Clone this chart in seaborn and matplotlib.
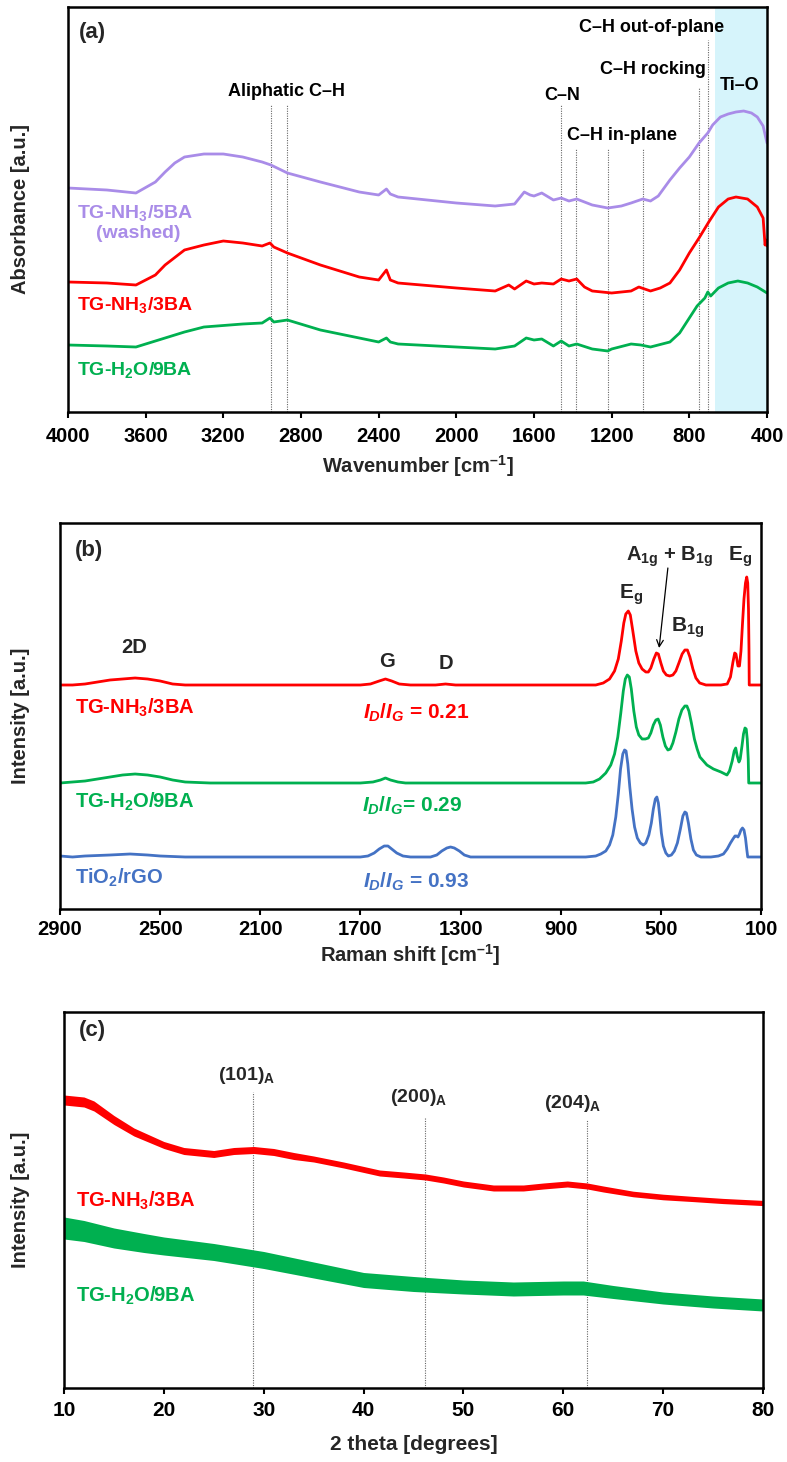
import matplotlib
matplotlib.use("Agg")
import numpy as np
import matplotlib.pyplot as plt
import seaborn as sns
from matplotlib import font_manager

sns.set_theme(style="white")
plt.rcParams.update({
    "font.family": ["Liberation Sans", "DejaVu Sans"],
    "font.weight": "bold",
    "mathtext.fontset": "custom",
    "mathtext.rm": "Liberation Sans:bold",
    "mathtext.it": "Liberation Sans:italic:bold",
    "mathtext.bf": "Liberation Sans:bold",
    "mathtext.sf": "Liberation Sans:bold",
    "axes.linewidth": 1.8,
    "axes.edgecolor": "black",
})
installed = {f.name for f in font_manager.fontManager.ttflist}
NARROW = "Liberation Sans Narrow" if "Liberation Sans Narrow" in installed else "Liberation Sans"

PURPLE = "#a98ce8"
RED = "#ff0000"
GREEN = "#00b050"
BLUE = "#4472c4"
SHADE = "#d6f4fb"

# ---------------- (a) FTIR absorbance ----------------
ftir_5ba_wn = [4000, 3800, 3650, 3550, 3500, 3450, 3400, 3300, 3200, 3100, 3000, 2955, 2870, 2700,
               2500, 2400, 2360, 2340, 2300, 2100, 2000, 1800, 1700, 1650, 1620, 1600, 1560, 1500,
               1460, 1420, 1380, 1300, 1220, 1150, 1100, 1040, 1000, 960, 900, 850, 800, 750, 705,
               680, 640, 600, 560, 520, 480, 450, 420, 400]
ftir_5ba_abs = [224, 222, 219, 230, 240, 249, 255, 258, 258, 255, 250, 247, 239, 230,
                220, 217, 223, 218, 215, 211, 209, 206, 208, 220, 217, 216, 219, 212,
                214, 211, 213, 207, 204, 206, 209, 213, 211, 216, 232, 244, 255, 269, 279,
                287, 295, 298, 300, 301, 299, 295, 286, 269]

ftir_3ba_wn = [4000, 3800, 3650, 3550, 3500, 3400, 3300, 3200, 3100, 3000, 2960, 2940, 2870, 2700,
               2500, 2400, 2360, 2340, 2300, 2000, 1800, 1730, 1700, 1640, 1600, 1560, 1500, 1460,
               1420, 1380, 1340, 1300, 1200, 1100, 1060, 1000, 950, 900, 850, 800, 750, 700, 650,
               600, 560, 500, 450, 420, 410, 405, 400]
ftir_3ba_abs = [130, 129, 127, 137, 147, 162, 167, 171, 169, 166, 169, 165, 159, 147,
                135, 132, 142, 132, 129, 124, 121, 127, 123, 131, 128, 129, 128, 133,
                131, 133, 125, 121, 119, 121, 125, 121, 124, 129, 142, 159, 174, 190, 205,
                213, 215, 213, 205, 194, 167, 172, 166]

ftir_9ba_wn = [4000, 3800, 3650, 3500, 3400, 3300, 3100, 3000, 2960, 2940, 2870, 2700, 2500, 2400,
               2360, 2340, 2300, 2000, 1800, 1700, 1640, 1600, 1560, 1500, 1460, 1420, 1380, 1300,
               1220, 1200, 1100, 1050, 1000, 900, 850, 800, 760, 720, 705, 690, 650, 600, 550,
               500, 450, 400]
ftir_9ba_abs = [67, 66, 65, 74, 80, 85, 88, 89, 94, 90, 92, 82, 74, 70,
                74, 70, 68, 65, 63, 66, 74, 72, 73, 66, 71, 66, 68, 63,
                61, 63, 68, 67, 65, 70, 79, 94, 106, 114, 120, 116, 124, 129, 131,
                129, 125, 119]

ftir_ticks = [4000, 3600, 3200, 2800, 2400, 2000, 1600, 1200, 800, 400]
tio_band = (668, 400)
# (wavenumber, top of marker line in axis units)
ftir_markers = [(2956, 307), (2870, 307), (1461, 307), (1384, 264), (1219, 264), (1039, 264),
                (750, 325), (704, 372)]
ftir_labels = [("Aliphatic C–H", 2877, 320), ("C–N", 1456, 317), ("C–H in-plane", 1147, 277),
               ("C–H rocking", 987, 342), ("C–H out-of-plane", 992, 385), ("Ti–O", 539, 327)]

# ---------------- (b) Raman ----------------
raman_3ba_shift = [2900, 2850, 2800, 2750, 2700, 2650, 2600, 2550, 2500, 2450, 2400, 2300, 2100, 1900,
                   1700, 1660, 1625, 1600, 1575, 1545, 1500, 1400, 1360, 1320, 1100, 900, 760, 730,
                   705, 685, 670, 658, 648, 640, 630, 622, 612, 600, 588, 575, 560, 550, 540, 528,
                   518, 510, 500, 490, 478, 465, 452, 440, 428, 415, 404, 394, 384, 372, 360, 345,
                   320, 260, 235, 222, 212, 205, 200, 192, 186, 180, 174, 168, 162, 157, 153, 150,
                   148, 147, 130, 100]
raman_3ba_int = [224, 224, 225, 227, 229, 230, 231, 230, 228, 225, 224, 224, 224, 224,
                 224, 225, 228, 230, 228, 225, 224, 224, 225, 224, 224, 224, 224, 226,
                 230, 238, 250, 268, 286, 295, 298, 294, 278, 258, 246, 240, 237, 237, 241, 250,
                 256, 255, 246, 238, 234, 233, 234, 238, 246, 255, 259, 259, 252, 240, 231, 226,
                 224, 224, 225, 232, 247, 256, 255, 243, 243, 258, 285, 310, 326, 332, 326, 300,
                 260, 224, 224, 224]

raman_9ba_shift = [2900, 2850, 2800, 2750, 2700, 2650, 2600, 2550, 2500, 2450, 2400, 2300, 2000, 1700,
                   1650, 1620, 1600, 1580, 1550, 1520, 1300, 1000, 800, 770, 745, 720, 700, 685,
                   672, 660, 650, 642, 634, 626, 618, 608, 598, 588, 575, 562, 550, 540, 530, 520,
                   511, 502, 492, 482, 472, 462, 452, 440, 428, 416, 404, 396, 388, 378, 366, 355,
                   344, 330, 316, 290, 260, 236, 226, 215, 207, 201, 195, 188, 183, 176, 170, 164,
                   159, 155, 151, 149, 130, 100]
raman_9ba_int = [126, 127, 128, 130, 132, 134, 135, 134, 132, 129, 127, 126, 126, 126,
                 127, 129, 131, 129, 127, 126, 126, 126, 126, 127, 130, 136, 144, 155,
                 172, 196, 218, 230, 234, 232, 220, 198, 182, 174, 170, 170, 171, 176, 184, 189,
                 190, 184, 172, 163, 159, 160, 166, 177, 190, 199, 203, 203, 198, 186, 170, 160,
                 152, 148, 144, 140, 137, 134, 138, 148, 158, 161, 153, 147, 150, 163, 175, 181,
                 180, 170, 150, 126, 126, 126]

raman_rgo_shift = [2900, 2850, 2800, 2700, 2620, 2550, 2500, 2400, 2200, 1900, 1700, 1670, 1645, 1625,
                   1605, 1590, 1575, 1555, 1530, 1500, 1420, 1395, 1375, 1355, 1340, 1325, 1305, 1285,
                   1260, 1000, 800, 760, 740, 720, 705, 692, 680, 670, 661, 652, 645, 639, 632, 624,
                   615, 605, 594, 582, 570, 560, 548, 538, 530, 522, 516, 510, 504, 498, 490, 480,
                   470, 458, 446, 434, 422, 412, 404, 398, 390, 380, 370, 358, 340, 300, 270, 250,
                   235, 222, 212, 204, 198, 192, 186, 180, 174, 168, 162, 157, 153, 130, 100]
raman_rgo_int = [53, 52, 53, 54, 55, 54, 53, 52, 52, 52, 52, 53, 56, 60,
                 63, 63, 60, 56, 53, 52, 52, 54, 58, 61, 62, 61, 58, 54,
                 52, 52, 52, 53, 55, 58, 64, 74, 92, 115, 140, 155, 159, 158, 145, 122,
                 100, 82, 71, 66, 64, 66, 74, 86, 100, 110, 112, 106, 92, 76, 63, 56,
                 53, 54, 58, 66, 80, 93, 97, 96, 86, 70, 59, 54, 52, 52, 53, 55,
                 60, 66, 70, 73, 73, 72, 75, 79, 81, 79, 71, 60, 52, 52, 52]

raman_ticks = [2900, 2500, 2100, 1700, 1300, 900, 500, 100]

# ---------------- (c) XRD ----------------
xrd_3ba_2theta = [10, 12, 13, 15, 17, 20, 22, 25, 27, 29, 31, 33, 35, 38, 41.6, 44, 46.2, 48, 50,
                  53, 56, 58, 60.4, 62.4, 64, 67, 70, 73, 76, 80]
xrd_3ba_int = [288, 286, 282, 268, 256, 243, 237, 234, 237, 238, 236, 232, 229, 223, 215, 213, 211,
               208, 204, 200, 200, 202, 204, 202, 199, 194, 191, 189, 187, 185]
xrd_3ba_spread = [5, 5, 5, 4.5, 4, 3.5, 3.5, 3.5, 3.5, 3.5, 3.5, 3.5, 3, 3, 3, 3, 3, 3, 3,
                  3, 3, 3, 3, 3, 3, 2.8, 2.8, 2.6, 2.6, 2.6]

xrd_9ba_2theta = [10, 12, 15, 18, 20, 25, 30, 35, 40, 45, 50, 55, 60, 62, 65, 70, 75, 80]
xrd_9ba_int = [160, 157, 150, 145, 142, 136, 128, 118, 108, 104, 101, 99, 100, 100, 96, 90, 86, 83]
xrd_9ba_spread = [11, 10.5, 10, 9.5, 9, 8.5, 8.5, 8, 7.5, 7.5, 7, 7, 7, 7, 6.5, 6, 6, 6]

xrd_ticks = [10, 20, 30, 40, 50, 60, 70, 80]
# (2theta, label text, label centre, label height, top of marker line)
xrd_reflections = [(28.9, "(101)$_{\\mathregular{A}}$", 28.3, 313, 296),
                   (46.2, "(200)$_{\\mathregular{A}}$", 45.5, 290, 271),
                   (62.4, "(204)$_{\\mathregular{A}}$", 60.9, 285, 268)]

# ---------------- figure ----------------
W, H = 787, 1462
fig = plt.figure(figsize=(W / 100, H / 100), dpi=100)


def box(l, t, r, b):
    return [l / W, 1 - b / H, (r - l) / W, (b - t) / H]


def frame(ax, ticks, tick_font, tick_size, pad):
    ax.set_yticks([])
    ax.set_xticks(ticks)
    ax.tick_params(axis="x", direction="out", length=4, width=1.5, pad=pad,
                   bottom=True, colors="black")
    for lab in ax.get_xticklabels():
        lab.set_fontfamily([tick_font, "DejaVu Sans"])
        lab.set_fontsize(tick_size)
        lab.set_fontweight("bold")
    for s in ax.spines.values():
        s.set_visible(True)
        s.set_color("black")
        s.set_linewidth(1.8)
    ax.grid(False)
    ax.set_facecolor("white")


def curve(ax, x, y, color, lw=2.0):
    sns.lineplot(x=np.asarray(x, float), y=np.asarray(y, float), ax=ax, color=color,
                 linewidth=lw, estimator=None, legend=False)


# (a)
axa = fig.add_axes(box(68, 7, 767, 412))
axa.axvspan(*tio_band, color=SHADE, lw=0, zorder=0)
for wn, top in ftir_markers:
    axa.plot([wn, wn], [0, top], color="#666666", lw=0.8, ls=(0, (1, 1.2)), zorder=1)
curve(axa, ftir_5ba_wn, ftir_5ba_abs, PURPLE)
curve(axa, ftir_3ba_wn, ftir_3ba_abs, RED)
curve(axa, ftir_9ba_wn, ftir_9ba_abs, GREEN)
axa.set_xlim(4000, 400)
axa.set_ylim(0, 405)
frame(axa, ftir_ticks, "Liberation Sans", 14.5, 7)
for txt, x, y in ftir_labels:
    axa.text(x, y, txt, ha="center", va="center", fontsize=13, fontweight="bold", color="black")
axa.text(0.016, 0.936, "(a)", transform=axa.transAxes, fontsize=16, fontweight="bold",
         ha="left", va="center")
axa.text(3954, 199, "TG-NH$_3$/5BA", color=PURPLE, fontsize=14, fontweight="bold", va="center")
axa.text(3640, 178, "(washed)", color=PURPLE, fontsize=14, fontweight="bold", ha="center", va="center")
axa.text(3954, 107, "TG-NH$_3$/3BA", color=RED, fontsize=14, fontweight="bold", va="center")
axa.text(3954, 42, "TG-H$_2$O/9BA", color=GREEN, fontsize=14, fontweight="bold", va="center")
axa.set_xlabel("Wavenumber [cm$^{\\mathregular{–1}}$]", fontsize=14.5, fontweight="bold")
axa.xaxis.set_label_coords(0.5, -0.102)
axa.set_ylabel("Absorbance [a.u.]", fontsize=14.5, fontweight="bold")
axa.yaxis.set_label_coords(-0.054, 0.5)

# (b)
axb = fig.add_axes(box(60, 523, 761, 909))
curve(axb, raman_3ba_shift, raman_3ba_int, RED)
curve(axb, raman_9ba_shift, raman_9ba_int, GREEN)
curve(axb, raman_rgo_shift, raman_rgo_int, BLUE)
axb.set_xlim(2900, 100)
axb.set_ylim(0, 386)
frame(axb, raman_ticks, "Liberation Sans", 14.5, 4)
axb.text(0.021, 0.93, "(b)", transform=axb.transAxes, fontsize=16, fontweight="bold",
         ha="left", va="center")
for txt, x, y in [("2D", 2604, 262), ("G", 1594, 248), ("D", 1358, 246)]:
    axb.text(x, y, txt, ha="center", va="center", fontsize=14.5, fontweight="bold")
axb.text(620, 314, "E$_{\\mathregular{g}}$", ha="center", va="center", fontsize=15, fontweight="bold")
axb.text(464, 352, "A$_{\\mathregular{1g}}$ + B$_{\\mathregular{1g}}$", ha="center", va="center",
         fontsize=14.5, fontweight="bold")
axb.text(392, 281, "B$_{\\mathregular{1g}}$", ha="center", va="center", fontsize=15, fontweight="bold")
axb.text(184, 352, "E$_{\\mathregular{g}}$", ha="center", va="center", fontsize=15, fontweight="bold")
axb.annotate("", xy=(507, 261), xytext=(472, 341),
             arrowprops=dict(arrowstyle="->", color="black", lw=0.9, shrinkA=0, shrinkB=0))
axb.text(2840, 201, "TG-NH$_3$/3BA", color=RED, fontsize=14.5, fontweight="bold", va="center")
axb.text(2840, 107, "TG-H$_2$O/9BA", color=GREEN, fontsize=14.5, fontweight="bold", va="center")
axb.text(2840, 31, "TiO$_2$/rGO", color=BLUE, fontsize=14.5, fontweight="bold", va="center")
axb.text(1690, 196, "$I_D/I_G$ = 0.21", color=RED, fontsize=15, fontweight="bold", va="center")
axb.text(1694, 103, "$I_D/I_G$= 0.29", color=GREEN, fontsize=15, fontweight="bold", va="center")
axb.text(1690, 27, "$I_D/I_G$ = 0.93", color=BLUE, fontsize=15, fontweight="bold", va="center")
axb.set_xlabel("Raman shift [cm$^{\\mathregular{–1}}$]", fontsize=14.5, fontweight="bold")
axb.xaxis.set_label_coords(0.5, -0.086)
axb.set_ylabel("Intensity [a.u.]", fontsize=14.5, fontweight="bold")
axb.yaxis.set_label_coords(-0.043, 0.5)

# (c)
axc = fig.add_axes(box(64, 1012, 763, 1388))
for x2t, txt, xc, ytxt, top in xrd_reflections:
    axc.plot([x2t, x2t], [0, top], color="#666666", lw=0.8, ls=(0, (1, 1.2)), zorder=1)
    axc.text(xc, ytxt, txt, ha="center", va="center", fontsize=14, fontweight="bold")
for xs, ys, sp, col in [(xrd_3ba_2theta, xrd_3ba_int, xrd_3ba_spread, RED),
                        (xrd_9ba_2theta, xrd_9ba_int, xrd_9ba_spread, GREEN)]:
    xs, ys, sp = np.asarray(xs, float), np.asarray(ys, float), np.asarray(sp, float)
    axc.fill_between(xs, ys - sp, ys + sp, color=col, lw=0, zorder=2)
    curve(axc, xs, ys, col, lw=1.5)
axc.set_xlim(10, 80)
axc.set_ylim(0, 376)
frame(axc, xrd_ticks, NARROW, 15, 5)
axc.text(0.021, 0.952, "(c)", transform=axc.transAxes, fontsize=16, fontweight="bold",
         ha="left", va="center")
axc.text(11.2, 187, "TG-NH$_3$/3BA", color=RED, fontsize=14.5, fontweight="bold", va="center")
axc.text(11.2, 92, "TG-H$_2$O/9BA", color=GREEN, fontsize=14.5, fontweight="bold", va="center")
axc.set_xlabel("2 theta [degrees]", fontsize=15, fontweight="bold",
               fontfamily=[NARROW, "DejaVu Sans"])
axc.xaxis.set_label_coords(0.5, -0.125)
axc.set_ylabel("Intensity [a.u.]", fontsize=14.5, fontweight="bold")
axc.yaxis.set_label_coords(-0.049, 0.5)

fig.savefig("out.png", dpi=100, facecolor="white")
